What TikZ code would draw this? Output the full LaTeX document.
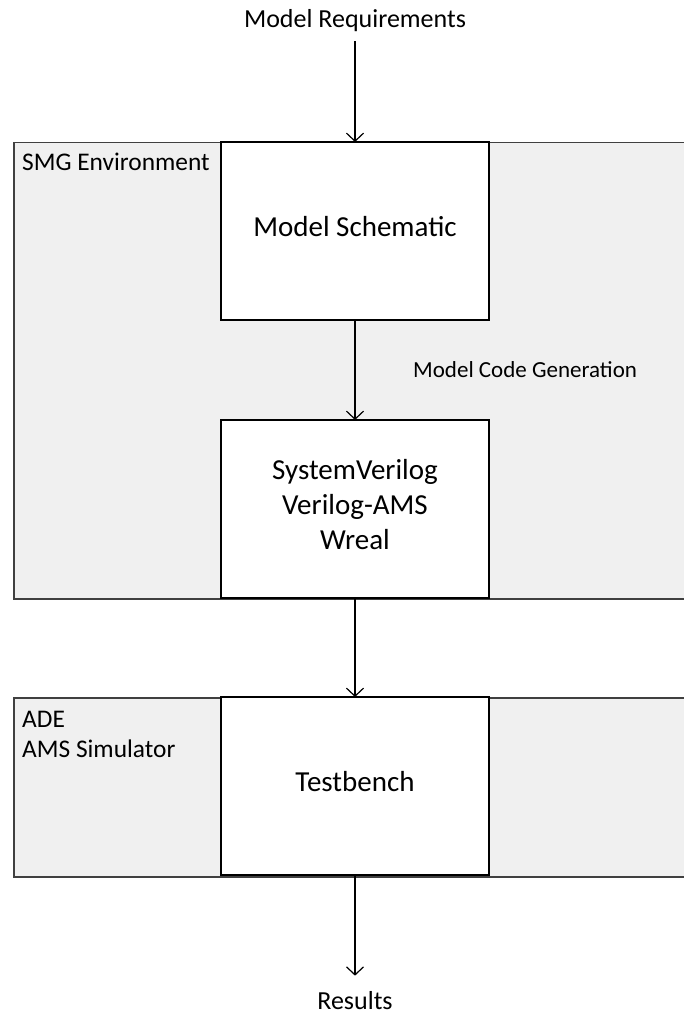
\documentclass[tikz,border=0pt]{standalone}
\usepackage{fontspec}
\setmainfont{Carlito}
\usetikzlibrary{positioning,arrows.meta}
\definecolor{fondo}{HTML}{F0F0F0}
\definecolor{borde}{HTML}{404040}

\begin{document}
\begin{tikzpicture}[
  x=1pt, y=-1pt,
  block/.style={draw=black, fill=white, line width=1.5pt, minimum width=268pt,
    minimum height=178pt, outer sep=0pt, align=center, text depth=9pt,
    font=\fontsize{29}{35}\selectfont},
  envbox/.style={draw=borde, fill=fondo, line width=1.5pt, anchor=north west,
    inner sep=0pt, minimum width=700pt},
  envlabel/.style={anchor=north west, align=left, inner sep=0pt,
    font=\fontsize{25.4}{30}\selectfont},
  side/.style={font=\fontsize{26}{31}\selectfont, inner sep=9pt},
  flow/.style={-{Straight Barb[length=8pt, width=17pt]}, line width=1.2pt}
]
  \clip (0,0) rectangle (684,1024);

  % environments behind the blocks
  \node[envbox, minimum height=456pt] (smg) at (13,142) {};
  \node[envbox, minimum height=179pt] (ade) at (13,697) {};
  \node[envlabel] (smglbl) at ([shift={(9,11)}]smg.north west) {SMG Environment};
  \node[envlabel] (adelbl) at ([shift={(9,14)}]ade.north west) {ADE\\AMS Simulator};

  % flow
  \node[side] (req) at (355,21) {Model Requirements};
  \node[block, anchor=north] (sch) at (355,142) {Model Schematic};
  \node[block, below=100pt of sch] (code) {SystemVerilog\\Verilog-AMS\\Wreal};
  \node[block, below=99pt of code] (tb) {Testbench};
  \node[side, inner ysep=16pt] (res) at (355,1001) {Results};
  \node[anchor=base west, inner sep=0pt, font=\fontsize{23}{28}\selectfont]
    (gen) at (413,377) {Model Code Generation};

  \draw[flow] (req) -- (sch);
  \draw[flow] (sch) -- (code);
  \draw[flow] (code) -- (tb);
  \draw[flow] (tb) -- (res);
\end{tikzpicture}
\end{document}
